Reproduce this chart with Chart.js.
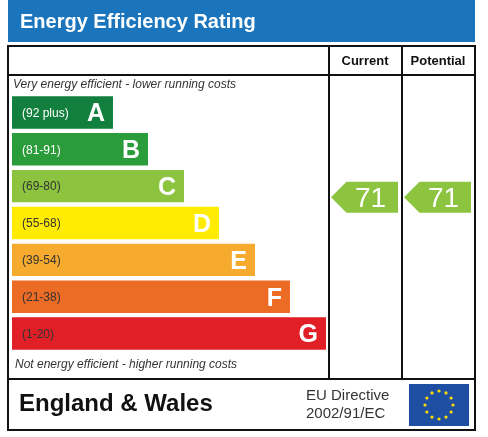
<!DOCTYPE html>
<html lang="en">
<head>
<meta charset="UTF-8">
<title>Energy Efficiency Rating</title>
<script src="https://cdn.jsdelivr.net/npm/chart.js"></script>
<style>
    body { margin: 0; background: #fff; }
    canvas { display: block; }
</style>
</head>
<body>
<canvas id="epc" width="488" height="437"></canvas>
<script>
// Bands, ranges and relative bar lengths
const bands = ['A', 'B', 'C', 'D', 'E', 'F', 'G'];
const ranges = ['(92 plus)', '(81-91)', '(69-80)', '(55-68)', '(39-54)', '(21-38)', '(1-20)'];
const barLengths = [101, 136, 172, 207, 243, 278, 314];
const bandColors = ['#137f3e', '#2a9c3a', '#8cc43f', '#ffec00', '#f6ab2f', '#ec6b25', '#e11f27'];
const rangeTextColors = ['#fff', '#fff', '#333', '#333', '#333', '#333', '#333'];
const currentRating = 71;
const potentialRating = 71;
const currentBand = 'C';
const potentialBand = 'C';

const font = 'Arial, "Liberation Sans", sans-serif';

function drawArrow(ctx, x1, x2, yc, h, color, value) {
    ctx.fillStyle = color;
    ctx.beginPath();
    ctx.moveTo(x1, yc);
    ctx.lineTo(x1 + h / 2, yc - h / 2);
    ctx.lineTo(x2, yc - h / 2);
    ctx.lineTo(x2, yc + h / 2);
    ctx.lineTo(x1 + h / 2, yc + h / 2);
    ctx.closePath();
    ctx.fill();
    ctx.fillStyle = '#fff';
    ctx.font = '28px ' + font;
    ctx.textAlign = 'center';
    ctx.textBaseline = 'middle';
    ctx.fillText(String(value), (x1 + x2) / 2 + 6, yc + 2);
}

const framePlugin = {
    id: 'frame',
    beforeDraw(chart) {
        const ctx = chart.ctx;
        ctx.save();
        // header
        ctx.fillStyle = '#1b75bc';
        ctx.fillRect(8, 0, 467, 42);
        ctx.fillStyle = '#fff';
        ctx.font = 'bold 20px ' + font;
        ctx.textBaseline = 'middle';
        ctx.fillText('Energy Efficiency Rating', 20, 22);
        // table frame
        ctx.strokeStyle = '#111';
        ctx.lineWidth = 2;
        ctx.strokeRect(8, 46, 467, 384);
        ctx.beginPath();
        ctx.moveTo(8, 75); ctx.lineTo(475, 75);
        ctx.moveTo(8, 379); ctx.lineTo(475, 379);
        ctx.moveTo(329, 46); ctx.lineTo(329, 379);
        ctx.moveTo(402, 46); ctx.lineTo(402, 379);
        ctx.stroke();
        ctx.fillStyle = '#111';
        ctx.font = 'bold 13px ' + font;
        ctx.textAlign = 'center';
        ctx.fillText('Current', 365, 61);
        ctx.fillText('Potential', 438, 61);
        ctx.textAlign = 'left';
        ctx.fillStyle = '#333';
        ctx.font = 'italic 12px ' + font;
        ctx.fillText('Very energy efficient - lower running costs', 13, 85);
        ctx.fillText('Not energy efficient - higher running costs', 15, 365);
        // footer
        ctx.fillStyle = '#111';
        ctx.font = 'bold 24px ' + font;
        ctx.fillText('England & Wales', 19, 404);
        ctx.fillStyle = '#333';
        ctx.font = '15px ' + font;
        ctx.fillText('EU Directive', 306, 396);
        ctx.fillText('2002/91/EC', 306, 414);
        // EU flag
        ctx.fillStyle = '#1f4fa3';
        ctx.fillRect(409, 384, 60, 42);
        ctx.fillStyle = '#ffdd00';
        for (let i = 0; i < 12; i++) {
            const a = i * Math.PI / 6;
            ctx.beginPath();
            ctx.arc(439 + 14 * Math.cos(a), 405 + 14 * Math.sin(a), 1.6, 0, Math.PI * 2);
            ctx.fill();
        }
        ctx.restore();
    },
    afterDatasetsDraw(chart) {
        const ctx = chart.ctx;
        const xs = chart.scales.x, ys = chart.scales.y;
        ctx.save();
        ctx.textBaseline = 'middle';
        bands.forEach((b, i) => {
            const y = ys.getPixelForValue(i);
            ctx.fillStyle = rangeTextColors[i];
            ctx.font = '12px ' + font;
            ctx.textAlign = 'left';
            ctx.fillText(ranges[i], 22, y + 1);
            ctx.fillStyle = '#fff';
            ctx.font = 'bold 25px ' + font;
            ctx.textAlign = 'right';
            ctx.fillText(b, xs.getPixelForValue(barLengths[i]) - 8, y + 2);
        });
        const ci = bands.indexOf(currentBand), pi = bands.indexOf(potentialBand);
        drawArrow(ctx, 331, 398, ys.getPixelForValue(ci) + 11, 31, bandColors[ci], currentRating);
        drawArrow(ctx, 404, 471, ys.getPixelForValue(pi) + 11, 31, bandColors[pi], potentialRating);
        ctx.restore();
    }
};

new Chart(document.getElementById('epc'), {
    type: 'bar',
    data: {
        labels: bands,
        datasets: [{
            data: barLengths,
            backgroundColor: bandColors,
            barPercentage: 0.88,
            categoryPercentage: 1
        }]
    },
    options: {
        indexAxis: 'y',
        responsive: false,
        animation: false,
        layout: { padding: { left: 12, right: 162, top: 94, bottom: 85 } },
        scales: {
            x: { display: false, min: 0, max: 314 },
            y: { display: false }
        },
        plugins: { legend: { display: false }, tooltip: { enabled: false } }
    },
    plugins: [framePlugin]
});
</script>
</body>
</html>
